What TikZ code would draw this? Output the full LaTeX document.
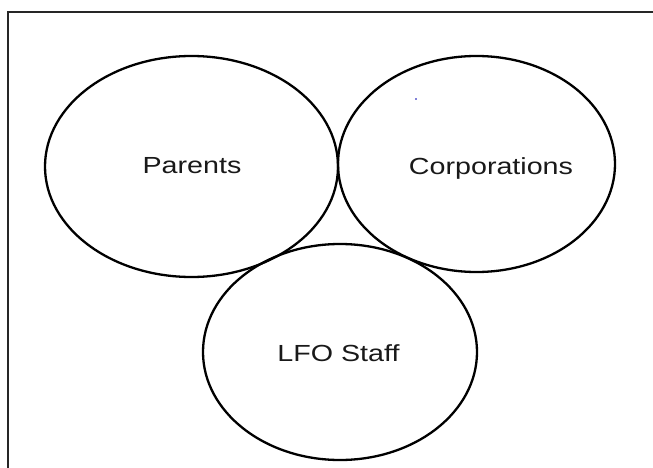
\documentclass[tikz,border=0pt]{standalone}
\usepackage{fontspec}
\setmainfont{Liberation Sans}[FakeStretch=1.23]
\usetikzlibrary{shapes.geometric}
\tikzset{x=1pt, y=-1pt,
        every node/.style={inner sep=0pt},
        ring/.style={ % The three overlapping groups
            draw,
            ellipse,
            line width=2.3pt},
        lbl/.style={ % Name inside a ring
            anchor=base,
            text=black!90,
            font=\fontsize{23.3}{28}\selectfont}
        }

\begin{document}
\begin{tikzpicture}
    \useasboundingbox (0,0) rectangle (653,468);
    \clip (0,0) rectangle (653,468);
    \fill[white] (0,0) rectangle (653,468);
    \draw[line width=2pt, black!85] (8,12) rectangle (700,520);

    \node[ring, minimum width=293pt, minimum height=221pt] (parents) at (191.5,166.5) {};
    \node[ring, minimum width=277pt, minimum height=216pt] (corp) at (476.5,164) {};
    \node[ring, minimum width=274pt, minimum height=216pt] (staff) at (340,352) {};

    \node[lbl] (parentsText) at (192,173.3) {Parents};
    \node[lbl] (corpText) at (491,174) {Corporations};
    \node[lbl] (staffText) at (338.5,361.7) {LFO Staff};

    \fill[blue!70!black] (416,99) circle (0.9pt);
\end{tikzpicture}
\end{document}
